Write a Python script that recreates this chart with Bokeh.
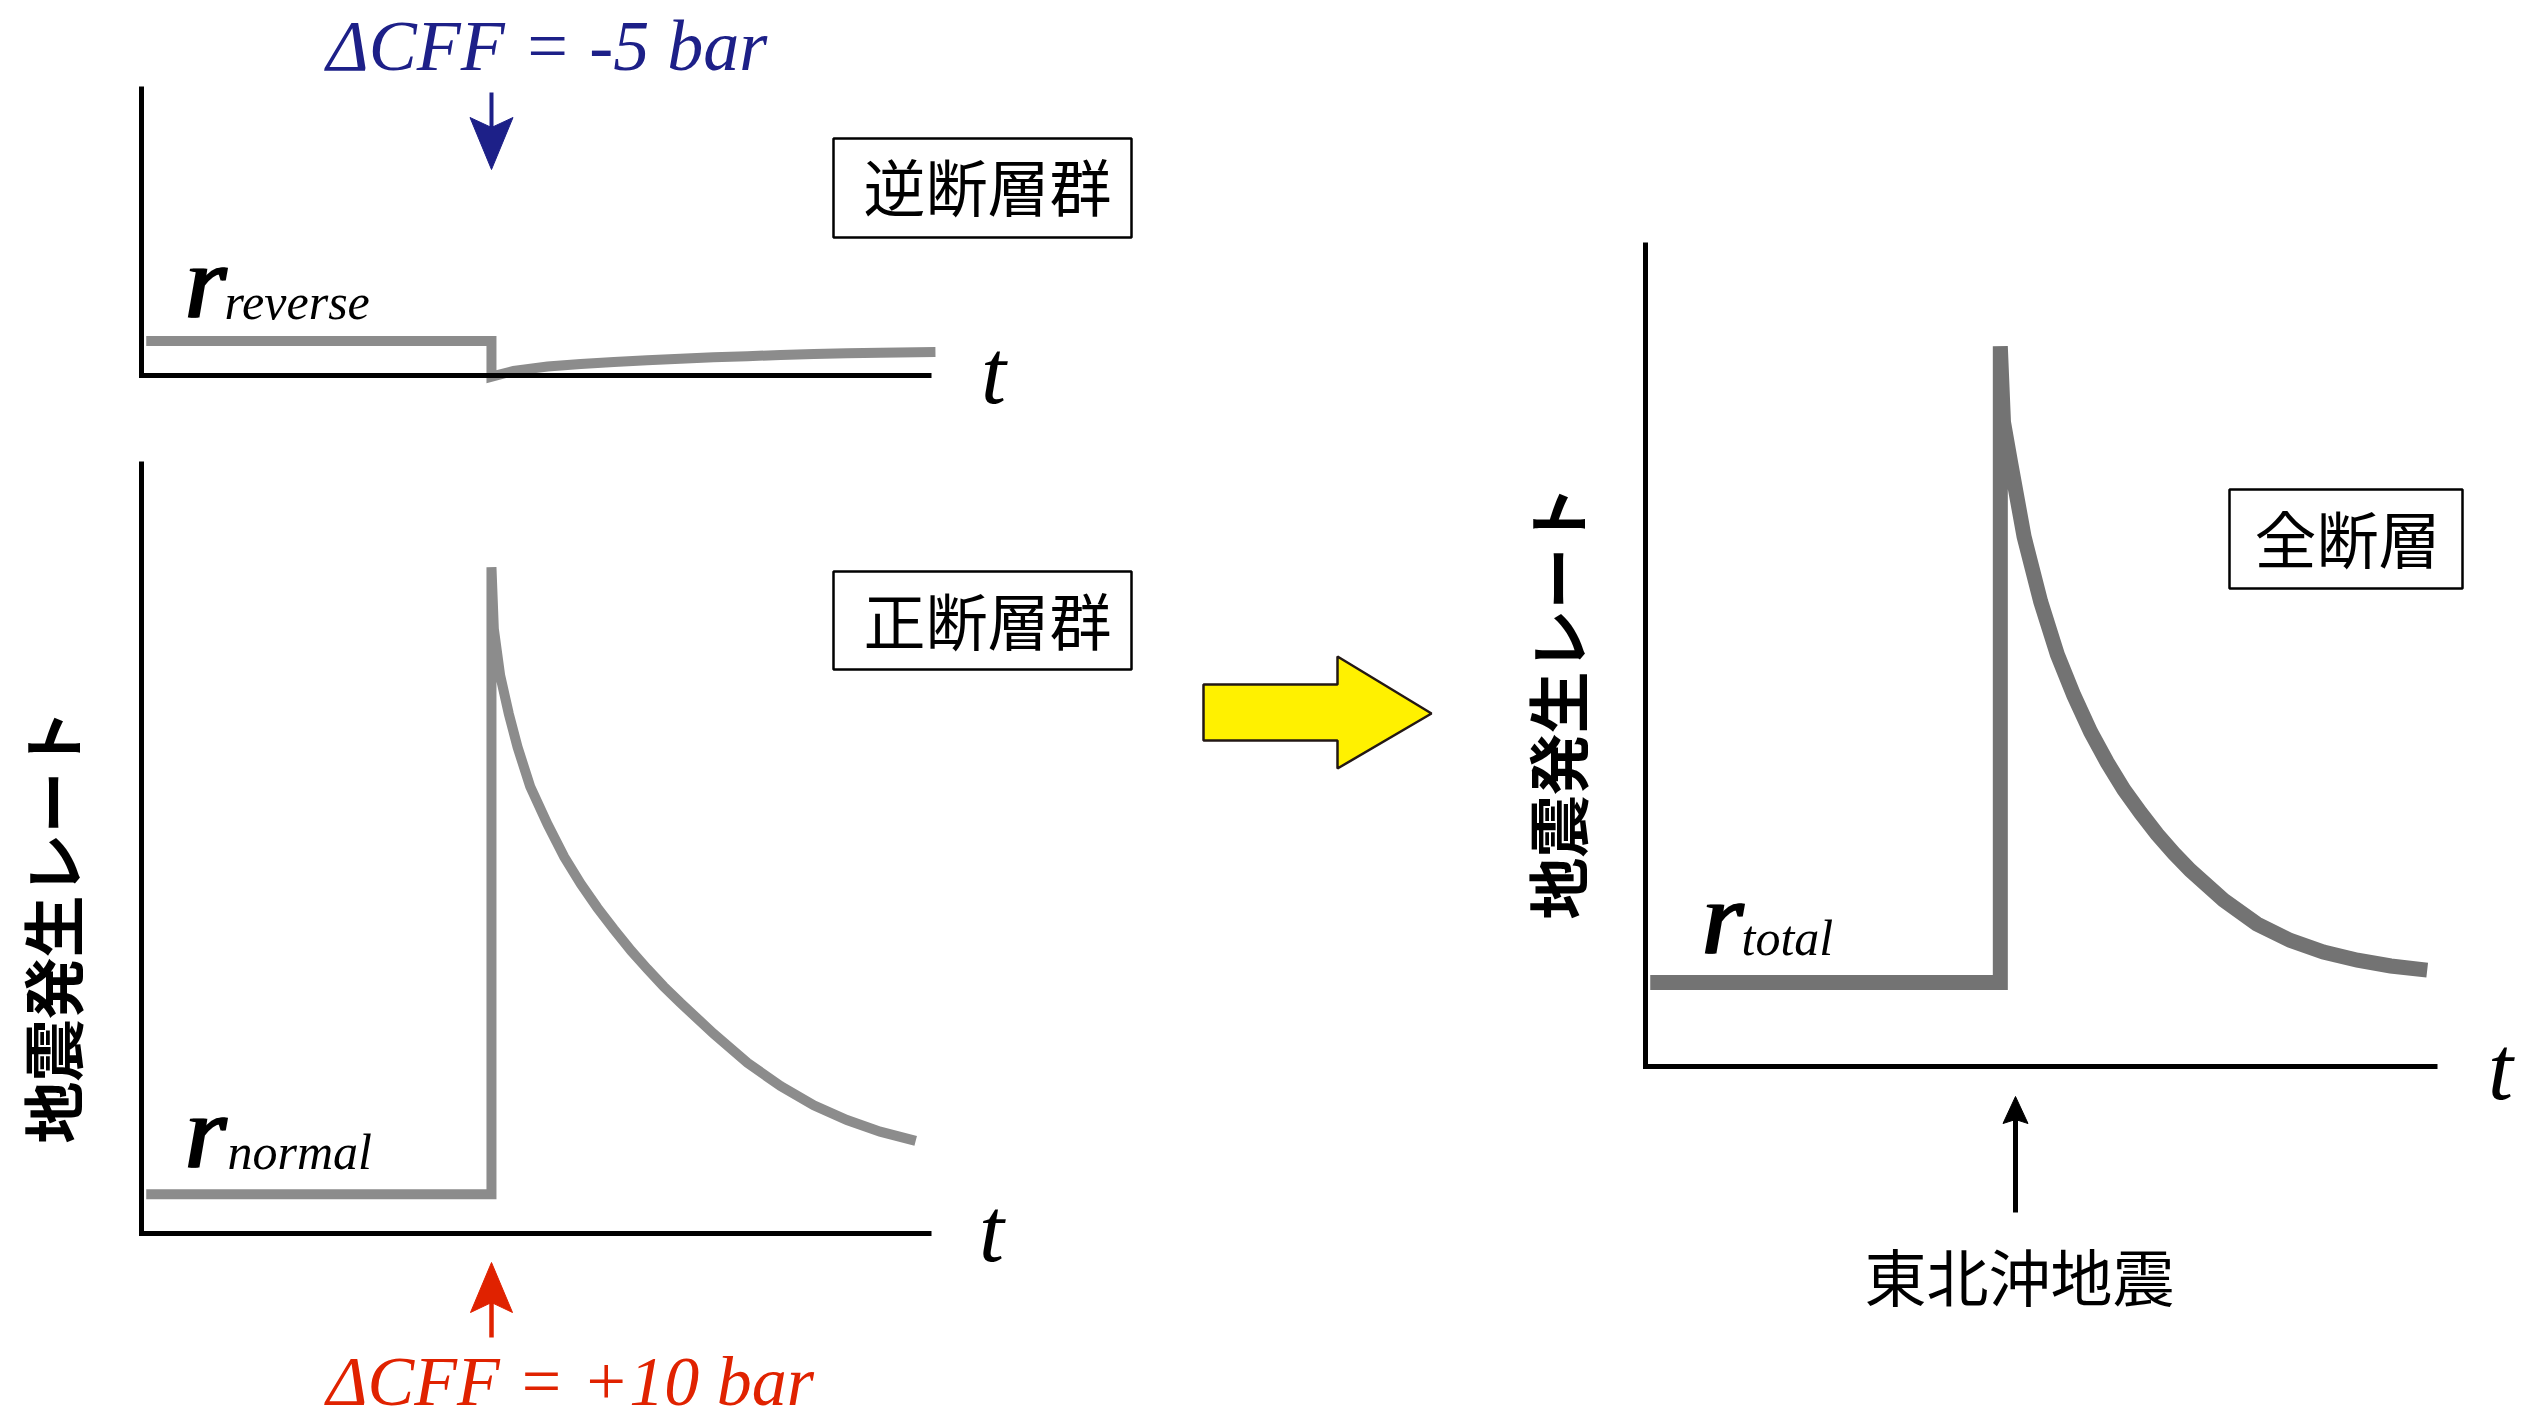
import math
from bokeh.plotting import figure
from bokeh.models import Range1d, Label
from bokeh.embed import file_html
from bokeh.resources import INLINE

# ---------------- data (time in % of panel width, rate in % of panel height) ----------
REVERSE_T = [0.6, 44.3, 44.3, 47.1, 51.4, 55.6, 59.8, 64.0, 68.2, 72.4, 76.7, 80.9, 85.1, 89.3, 93.5, 100.5]
REVERSE_RATE = [11.9, 11.9, -0.4, 1.6, 3.1, 4.0, 4.7, 5.3, 5.8, 6.3, 6.7, 7.1, 7.4, 7.7, 7.9, 8.1]

NORMAL_T = [0.6, 44.3, 44.3, 44.6, 45.4, 46.5, 47.6, 49.2, 51.4, 53.5, 55.6, 57.7, 59.8,
            62.0, 64.0, 66.1, 68.2, 72.4, 76.7, 80.9, 85.1, 89.3, 93.5, 98.0]
NORMAL_RATE = [5.1, 5.1, 86.3, 78.3, 72.3, 67.3, 63.0, 57.9, 53.0, 48.8, 45.3, 42.2, 39.4,
               36.6, 34.3, 32.0, 29.9, 25.9, 22.1, 19.1, 16.6, 14.7, 13.2, 12.0]

TOTAL_T = [0.6, 44.8, 44.8, 45.2, 46.1, 47.8, 49.9, 52.0, 54.1, 56.2, 58.3, 60.4, 62.5,
           64.6, 66.7, 68.8, 73.0, 77.2, 81.4, 85.6, 89.9, 94.1, 98.7]
TOTAL_RATE = [10.2, 10.2, 87.4, 78.2, 73.3, 64.3, 56.4, 50.0, 45.0, 40.6, 36.9, 33.6, 30.8,
              28.2, 25.9, 23.8, 20.2, 17.3, 15.3, 13.9, 12.9, 12.2, 11.7]

AXIS_T = [0, 0, 100]
AXIS_RATE = [100, 0, 0]

REVERSE_LABEL = "逆断層群"
NORMAL_LABEL = "正断層群"
TOTAL_LABEL = "全断層"
Y_LABEL = "地震発生レート"
QUAKE_LABEL = "東北沖地震"
DCFF_NEG = "ΔCFF = -5 bar"
DCFF_POS = "ΔCFF = +10 bar"

# ---------------- figure (page-pixel coordinates) ----------------
W, H = 2532, 1424
X0P, X1P, Y0P, Y1P = 0, W, H, 0

p = figure(width=W, height=H, x_range=Range1d(X0P, X1P), y_range=Range1d(Y0P, Y1P),
           output_backend="svg", toolbar_location=None, x_axis_type=None, y_axis_type=None,
           min_border=0, outline_line_color=None, background_fill_color="white",
           border_fill_color="white")
p.grid.visible = False


def xr(a, b):
    s = 100.0 / (b - a)
    return Range1d(start=(X0P - a) * s, end=(X1P - a) * s)


def yr(base, top):
    s = 100.0 / (base - top)
    return Range1d(start=(base - Y0P) * s, end=(base - Y1P) * s)


# panel placements: (left, right, baseline, top) in page pixels
PANELS = {
    "tl": (141, 931, 375, 86),
    "bl": (141, 931, 1233, 461),
    "rt": (1645, 2437, 1066, 242),
}
for k, (a, b, base, top) in PANELS.items():
    p.extra_x_ranges[k] = xr(a, b)
    p.extra_y_ranges[k] = yr(base, top)

# rate curves
p.line(REVERSE_T, REVERSE_RATE, x_range_name="tl", y_range_name="tl",
       line_color="#8c8c8c", line_width=10, line_join="miter", line_cap="butt")
p.line(NORMAL_T, NORMAL_RATE, x_range_name="bl", y_range_name="bl",
       line_color="#8c8c8c", line_width=10, line_join="miter", line_cap="butt")
p.line(TOTAL_T, TOTAL_RATE, x_range_name="rt", y_range_name="rt",
       line_color="#737373", line_width=15, line_join="miter", line_cap="butt")

# axes
for k in PANELS:
    p.line(AXIS_T, AXIS_RATE, x_range_name=k, y_range_name=k,
           line_color="black", line_width=5, line_join="miter", line_cap="butt")


# ---------------- arrows ----------------
def head(tx, ty, dx, dy, length, width, notch):
    bx, by = tx - length * dx, ty - length * dy
    px, py = -dy, dx
    nx, ny = tx - (length - notch) * dx, ty - (length - notch) * dy
    xs = [tx, bx + px * width / 2, nx, bx - px * width / 2]
    ys = [ty, by + py * width / 2, ny, by - py * width / 2]
    return xs, ys


def arrow(x, y_from, y_to, color, length, width, notch, lw):
    d = 1 if y_to > y_from else -1
    p.line([x, x], [y_from, y_to - d * (length - notch - 2)], line_color=color, line_width=lw)
    xs, ys = head(x, y_to, 0, d, length, width, notch)
    p.patch(xs, ys, fill_color=color, line_color=color, line_width=1)


BLUE = "#1d2088"
RED = "#e02200"
arrow(491, 92, 169, BLUE, 52, 43, 10, 4)
arrow(491, 1337, 1262, RED, 50, 42, 10, 4.5)
arrow(2015, 1212, 1096, "black", 27, 25, 4, 5)

# yellow block arrow
YX = [1203, 1337, 1337, 1431, 1337, 1337, 1203]
YY = [684, 684, 656, 713, 768, 740, 740]
p.patch(YX, YY, fill_color="#fff100", line_color="#231815", line_width=2.5)

# ---------------- boxes ----------------
p.quad(left=[833, 833, 2229], right=[1131, 1131, 2462], top=[138, 571, 489],
       bottom=[237, 669, 588], fill_color="white", line_color="black", line_width=2.5)

CJK = "Noto Sans CJK JP"
SERIF = "Liberation Serif"


def lab(x, y, text, size, font=CJK, style="normal", color="black", align="center",
        baseline="middle", angle=0):
    if baseline == "alphabetic":
        y = y - 0.36 * size
    p.add_layout(Label(x=x, y=y, text=text, text_font=font, text_font_size=f"{size}px",
                       text_font_style=style, text_color=color, text_align=align,
                       text_baseline=baseline, angle=angle))


lab(987, 184, REVERSE_LABEL, 62)
lab(987, 618, NORMAL_LABEL, 62)
lab(2347, 536, TOTAL_LABEL, 62)
lab(2019, 1274, QUAKE_LABEL, 62)
lab(50, 926, Y_LABEL, 62, style="bold", angle=math.pi / 2)
lab(1555, 702, Y_LABEL, 62, style="bold", angle=math.pi / 2)

lab(326, 71, DCFF_NEG, 72, font=SERIF, style="italic", color=BLUE, align="left",
    baseline="alphabetic")
lab(326, 1406, DCFF_POS, 70, font=SERIF, style="italic", color=RED, align="left",
    baseline="alphabetic")

for (tx, ty) in [(993, 404), (991, 1262), (2500, 1100)]:
    lab(tx, ty, "t", 90, font=SERIF, style="italic", align="center", baseline="alphabetic")

for (rx, ry, sub, sx) in [(183, 319, "reverse", 224), (183, 1169, "normal", 227),
                          (1700, 955, "total", 1741)]:
    for dx in (0, 1.5, 3):
        lab(rx + dx, ry, "r", 106, font=SERIF, style="italic", align="left",
            baseline="alphabetic")
    lab(sx, ry, sub, 50, font=SERIF, style="italic", align="left", baseline="alphabetic")

open("out.html", "w").write(file_html(p, INLINE))
